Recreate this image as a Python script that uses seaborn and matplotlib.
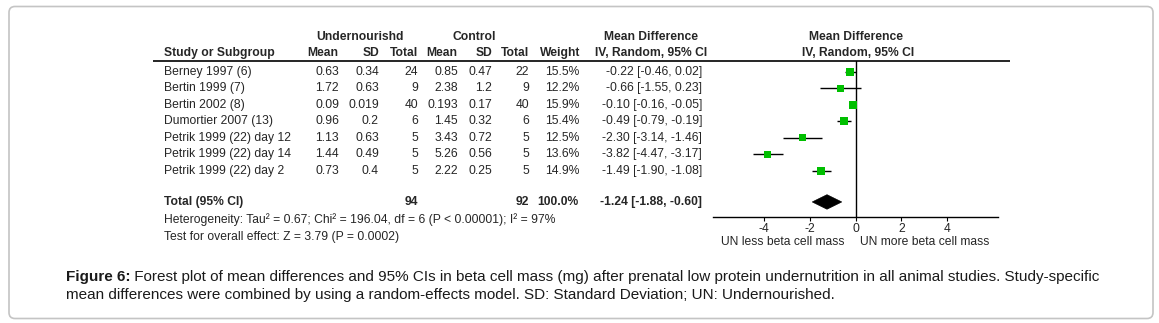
import numpy as np
import pandas as pd
import matplotlib
matplotlib.use("Agg")
import matplotlib.pyplot as plt
from matplotlib.patches import FancyBboxPatch, Polygon
import seaborn as sns

# ---------------- data ----------------
studies = ["Berney 1997 (6)", "Bertin 1999 (7)", "Bertin 2002 (8)", "Dumortier 2007 (13)",
           "Petrik 1999 (22) day 12", "Petrik 1999 (22) day 14", "Petrik 1999 (22) day 2"]
un_mean = [0.63, 1.72, 0.09, 0.96, 1.13, 1.44, 0.73]
un_sd = [0.34, 0.63, 0.019, 0.2, 0.63, 0.49, 0.4]
un_n = [24, 9, 40, 6, 5, 5, 5]
ct_mean = [0.85, 2.38, 0.193, 1.45, 3.43, 5.26, 2.22]
ct_sd = [0.47, 1.2, 0.17, 0.32, 0.72, 0.56, 0.25]
ct_n = [22, 9, 40, 6, 5, 5, 5]
weight = [15.5, 12.2, 15.9, 15.4, 12.5, 13.6, 14.9]
md = [-0.22, -0.66, -0.10, -0.49, -2.30, -3.82, -1.49]
md_lo = [-0.46, -1.55, -0.16, -0.79, -3.14, -4.47, -1.90]
md_hi = [0.02, 0.23, -0.05, -0.19, -1.46, -3.17, -1.08]
total_un_n = 94
total_ct_n = 92
total_weight = 100.0
total_md, total_lo, total_hi = -1.24, -1.88, -0.60
xticks = [-4, -2, 0, 2, 4]
heterogeneity = "Heterogeneity: Tau\u00b2 = 0.67; Chi\u00b2 = 196.04, df = 6 (P < 0.00001); I\u00b2 = 97%"
overall = "Test for overall effect: Z = 3.79 (P = 0.0002)"
caption_bold = "Figure 6:"
caption_1 = " Forest plot of mean differences and 95% CIs in beta cell mass (mg) after prenatal low protein undernutrition in all animal studies. Study-specific"
caption_2 = "mean differences were combined by using a random-effects model. SD: Standard Deviation; UN: Undernourished."

# ---------------- style ----------------
sns.set_theme(style="white")
plt.rcParams['font.family'] = ['Liberation Sans', 'DejaVu Sans']
plt.rcParams['axes.unicode_minus'] = False

W, H = 1159, 323
fig = plt.figure(figsize=(W / 100, H / 100), dpi=100)
fig.patch.set_facecolor("white")

bg = fig.add_axes([0, 0, 1, 1])
bg.set_xlim(0, W)
bg.set_ylim(H, 0)
bg.axis("off")

# rounded frame
bg.add_patch(FancyBboxPatch((9, 6.5), 1144, 312, boxstyle="round,pad=0,rounding_size=6",
                            fill=False, ec="#c4c4c4", lw=1.2))

FS = 8.75
ROW0, DY = 72, 16.45
def ypx(r):
    return ROW0 + DY * r

TOT_R = 7.9

# headers
bg.text(360, 37, "Undernourishd", ha="center", va="center", fontsize=FS, fontweight="bold")
bg.text(474, 37, "Control", ha="center", va="center", fontsize=FS, fontweight="bold")
bg.text(651, 37, "Mean Difference", ha="center", va="center", fontsize=FS, fontweight="bold")
bg.text(856, 37, "Mean Difference", ha="center", va="center", fontsize=FS, fontweight="bold")
hdr2 = [(164, "Study or Subgroup", "left"), (338, "Mean", "right"), (379, "SD", "right"),
        (418, "Total", "right"), (457, "Mean", "right"), (492, "SD", "right"),
        (529, "Total", "right"), (580, "Weight", "right"),
        (651, "IV, Random, 95% CI", "center"), (858, "IV, Random, 95% CI", "center")]
for x, s, ha in hdr2:
    bg.text(x, 53, s, ha=ha, va="center", fontsize=FS, fontweight="bold")
bg.plot([153, 1010], [61, 61], color="black", lw=1.2, solid_capstyle="butt")

# table rows
for i, name in enumerate(studies):
    y = ypx(i)
    bg.text(164, y, name, ha="left", va="center", fontsize=FS)
    bg.text(339, y, f"{un_mean[i]:g}", ha="right", va="center", fontsize=FS)
    bg.text(379, y, f"{un_sd[i]:g}", ha="right", va="center", fontsize=FS)
    bg.text(418, y, f"{un_n[i]}", ha="right", va="center", fontsize=FS)
    bg.text(458, y, f"{ct_mean[i]:g}", ha="right", va="center", fontsize=FS)
    bg.text(492, y, f"{ct_sd[i]:g}", ha="right", va="center", fontsize=FS)
    bg.text(529, y, f"{ct_n[i]}", ha="right", va="center", fontsize=FS)
    bg.text(579, y, f"{weight[i]:.1f}%", ha="right", va="center", fontsize=FS)
    bg.text(702, y, f"{md[i]:.2f} [{md_lo[i]:.2f}, {md_hi[i]:.2f}]", ha="right", va="center", fontsize=FS)

yt = ypx(TOT_R)
bg.text(164, yt, "Total (95% CI)", ha="left", va="center", fontsize=FS, fontweight="bold")
bg.text(418, yt, f"{total_un_n}", ha="right", va="center", fontsize=FS, fontweight="bold")
bg.text(529, yt, f"{total_ct_n}", ha="right", va="center", fontsize=FS, fontweight="bold")
bg.text(579, yt, f"{total_weight:.1f}%", ha="right", va="center", fontsize=FS, fontweight="bold")
bg.text(702, yt, f"{total_md:.2f} [{total_lo:.2f}, {total_hi:.2f}]", ha="right", va="center",
        fontsize=FS, fontweight="bold")
bg.text(164, 220, heterogeneity, ha="left", va="center", fontsize=FS)
bg.text(164, 237, overall, ha="left", va="center", fontsize=FS)
bg.text(783, 242, "UN less beta cell mass", ha="center", va="center", fontsize=FS)
bg.text(925, 242, "UN more beta cell mass", ha="center", va="center", fontsize=FS)

# ---------------- forest axes ----------------
top_px, bot_px, left_px, right_px = 61, 217, 713, 998
ax = fig.add_axes([left_px / W, (H - bot_px) / H, (right_px - left_px) / W, (bot_px - top_px) / H])
ax.set_facecolor("none")
ax.set_xlim(-6.2, 6.2)
ax.set_ylim((bot_px - ROW0) / DY, (top_px - ROW0) / DY)

df = pd.DataFrame({"md": md, "lo": md_lo, "hi": md_hi, "weight": weight,
                   "row": np.arange(len(studies))})
ax.axvline(0, color="black", lw=1.0, zorder=1)
ax.hlines(df["row"], df["lo"], df["hi"], color="black", lw=1.0, zorder=2)
sns.scatterplot(data=df, x="md", y="row", size="weight", sizes=(22, 34), marker="s",
                color="#00bf00", edgecolor="none", linewidth=0, legend=False, ax=ax, zorder=3)
ax.add_patch(Polygon([(total_lo, TOT_R), (total_md, TOT_R - 0.44), (total_hi, TOT_R),
                      (total_md, TOT_R + 0.44)], closed=True, fc="black", ec="black", lw=0.5))

for s in ["top", "right", "left"]:
    ax.spines[s].set_visible(False)
ax.spines["bottom"].set_color("black")
ax.spines["bottom"].set_linewidth(1.0)
ax.set_yticks([])
ax.set_xticks(xticks)
ax.set_xticklabels([f"{t:d}" for t in xticks])
ax.tick_params(axis="x", direction="out", length=3, width=0.8, color="black", pad=1.5,
               labelsize=FS, bottom=True)
ax.set_xlabel("")
ax.set_ylabel("")
ax.grid(False)

# ---------------- caption ----------------
CFS = 11.0
CC = "#1a1a1a"
tb = bg.text(66, 277, caption_bold, ha="left", va="center", fontsize=CFS, fontweight="bold", color=CC)
fig.canvas.draw()
bb = tb.get_window_extent(renderer=fig.canvas.get_renderer())
x_after = bb.x1
bg.text(x_after, 277, caption_1, ha="left", va="center", fontsize=CFS, color=CC)
bg.text(66, 295, caption_2, ha="left", va="center", fontsize=CFS, color=CC)

fig.savefig("out.png", dpi=100, facecolor="white")
